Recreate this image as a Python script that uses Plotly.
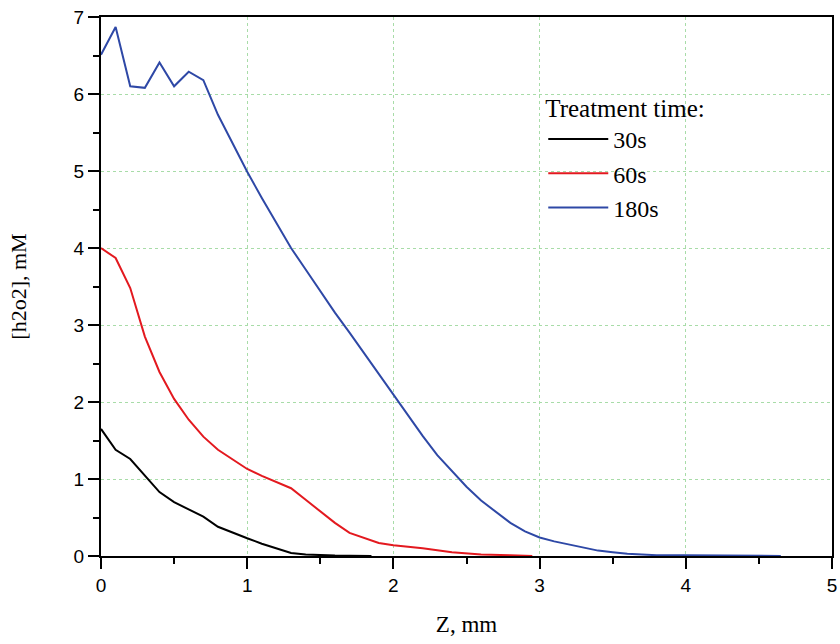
import plotly.graph_objects as go

# Data
z_30 = [0.0, 0.1, 0.2, 0.3, 0.4, 0.5, 0.6, 0.7, 0.8, 0.9, 1.0, 1.1, 1.2, 1.3, 1.4, 1.5, 1.6, 1.7, 1.85]
c_30 = [1.65, 1.38, 1.26, 1.05, 0.83, 0.70, 0.60, 0.51, 0.38, 0.30, 0.23, 0.16, 0.10, 0.04, 0.02, 0.01, 0.005, 0.003, 0.0]

z_60 = [0.0, 0.1, 0.2, 0.3, 0.4, 0.5, 0.6, 0.7, 0.8, 0.9, 1.0, 1.1, 1.2, 1.3, 1.4, 1.5, 1.6, 1.7, 1.8, 1.9,
        2.0, 2.2, 2.4, 2.6, 2.8, 2.95]
c_60 = [4.0, 3.87, 3.48, 2.85, 2.39, 2.04, 1.77, 1.55, 1.38, 1.25, 1.13, 1.04, 0.96, 0.88, 0.73, 0.58, 0.43, 0.30,
        0.23, 0.17, 0.14, 0.10, 0.05, 0.02, 0.01, 0.0]

z_180 = [0.0, 0.1, 0.2, 0.3, 0.4, 0.5, 0.6, 0.7, 0.8, 0.9, 1.0, 1.1, 1.2, 1.3, 1.4, 1.5, 1.6, 1.7, 1.8, 1.9,
         2.0, 2.1, 2.2, 2.3, 2.4, 2.5, 2.6, 2.7, 2.8, 2.9, 3.0, 3.1, 3.2, 3.3, 3.4, 3.5, 3.6, 3.7, 3.8, 4.0,
         4.3, 4.65]
c_180 = [6.51, 6.87, 6.10, 6.08, 6.41, 6.10, 6.29, 6.18, 5.73, 5.36, 4.99, 4.65, 4.32, 4.0, 3.72, 3.44, 3.16,
         2.90, 2.63, 2.36, 2.09, 1.82, 1.56, 1.31, 1.10, 0.90, 0.72, 0.57, 0.43, 0.32, 0.24, 0.19, 0.15, 0.11,
         0.07, 0.05, 0.03, 0.02, 0.01, 0.01, 0.005, 0.0]

series_names = ["30s", "60s", "180s"]
series_colors = ["#000000", "#e3191f", "#2e48a6"]

serif = "Liberation Serif, Times New Roman, serif"
sans = "Liberation Sans Narrow, Liberation Sans, Arial, sans-serif"

fig = go.Figure()
for zs, cs, name, col in zip([z_30, z_60, z_180], [c_30, c_60, c_180], series_names, series_colors):
    fig.add_trace(go.Scatter(x=zs, y=cs, mode="lines", name=name,
                             line=dict(color=col, width=2)))

axis_common = dict(
    showline=True, linecolor="black", linewidth=2, mirror=True,
    ticks="outside", ticklen=11, tickwidth=2, tickcolor="black",
    showgrid=True, gridcolor="#a8dca8", griddash="dot", gridwidth=1,
    zeroline=False,
    tickfont=dict(family=sans, size=19, color="black"),
    ticklabeloverflow="allow",
    minor=dict(ticks="outside", ticklen=6, tickwidth=2, tickcolor="black", dtick=0.5, showgrid=False),
)

fig.update_xaxes(range=[0, 5], dtick=1, tick0=0,
                 title=dict(text="Z, mm", font=dict(family=serif, size=23, color="black"), standoff=21),
                 **axis_common)
fig.update_yaxes(range=[0, 7], dtick=1, tick0=0,
                 title=dict(text="[h2o2], mM", font=dict(family=serif, size=22, color="black"), standoff=41),
                 **axis_common)

fig.update_layout(
    width=840, height=644,
    margin=dict(l=101, r=3, t=17, b=88),
    plot_bgcolor="white", paper_bgcolor="white",
    legend=dict(
        title=dict(text="Treatment time:", font=dict(family=serif, size=25, color="black")),
        font=dict(family=serif, size=24, color="black"),
        x=0.605, y=0.875, xanchor="left", yanchor="top",
        bgcolor="rgba(255,255,255,0)", tracegroupgap=0, itemwidth=60,
    ),
)

fig.write_html("out.html")
